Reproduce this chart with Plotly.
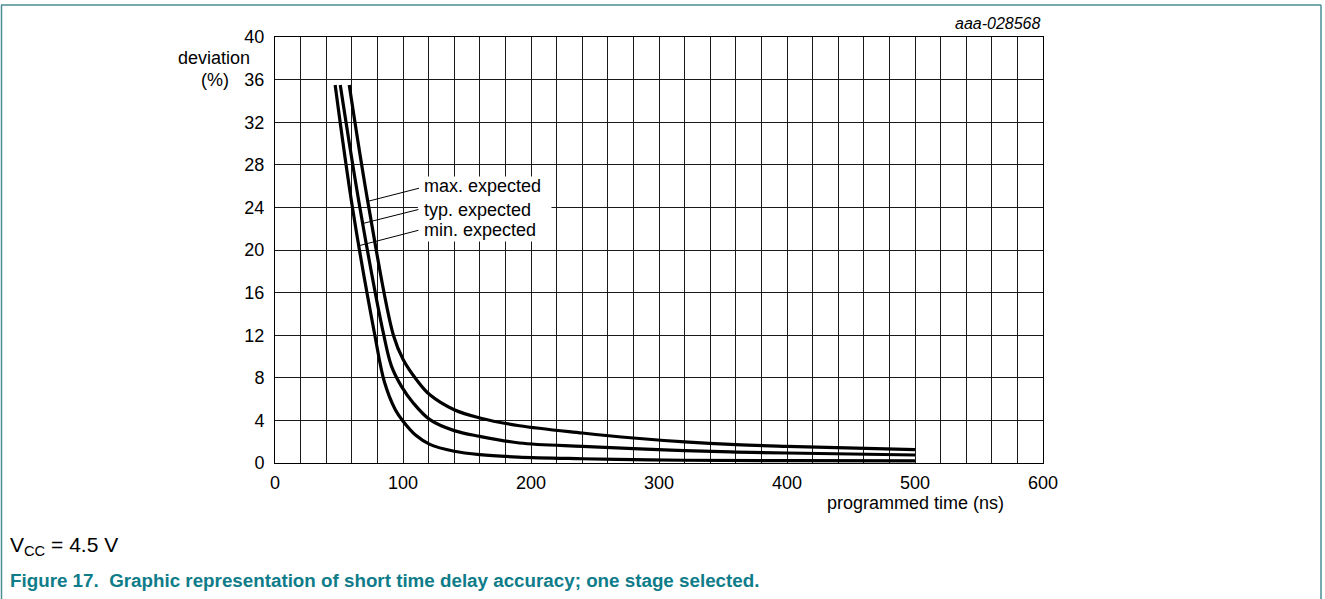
import plotly.graph_objects as go

# ---------------- data ----------------
min_x = [47, 60.5, 78, 85.5, 94, 100.2, 110, 121, 140, 160, 190, 240, 280, 320, 400, 500]
min_y = [35.5, 24, 12, 7.6, 5, 3.9, 2.6, 1.75, 1.1, 0.78, 0.56, 0.4, 0.31, 0.26, 0.22, 0.2]

typ_x = [51, 66.3, 85, 91, 98.8, 108, 121, 140, 160, 191, 240, 280, 320, 360, 400, 500]
typ_y = [35.5, 24, 12, 9.1, 7.2, 5.64, 4.07, 3.04, 2.5, 1.88, 1.56, 1.35, 1.16, 1.03, 0.94, 0.75]

max_x = [58, 73.3, 92.5, 100.2, 110.7, 121, 140, 160, 191, 240, 280, 320, 360, 400, 500]
max_y = [35.5, 24, 12, 9.7, 7.8, 6.4, 5.0, 4.23, 3.5, 2.82, 2.35, 1.98, 1.72, 1.56, 1.25]

x_ticks = [0, 100, 200, 300, 400, 500, 600]
y_ticks = [0, 4, 8, 12, 16, 20, 24, 28, 32, 36, 40]

series_labels = ["max. expected", "typ. expected", "min. expected"]
# leader line start points on curves (data coords) and end points at label box
leader_start = [(73.5, 24.6), (68.9, 22.5), (65.5, 20.4)]
leader_end = [(112.5, 25.8), (112.0, 23.8), (112.0, 21.85)]
label_y = [26.0, 23.8, 21.9]

# ---------------- figure ----------------
W, H = 1325, 599
L, R, T, B = 275, 1043, 37, 463   # plot area in pixels

def px(xp):
    return (xp - L) / (R - L)

def py(yp):
    return (B - yp) / (B - T)

FONT = "Liberation Sans, Arial, sans-serif"
TEAL = "#0e7c89"
GRID = "#1a1a1a"

fig = go.Figure()
for xs, ys in [(min_x, min_y), (typ_x, typ_y), (max_x, max_y)]:
    fig.add_trace(go.Scatter(x=xs, y=ys, mode="lines",
                             line=dict(color="black", width=3.2, shape="spline", smoothing=1.0),
                             showlegend=False, hoverinfo="skip", cliponaxis=False))

shapes = []
# white label box covering grid
shapes.append(dict(type="rect", xref="x", yref="y", x0=111.6, x1=216, y0=20.8, y1=26.9,
                   fillcolor="white", line=dict(width=0), layer="above"))
for (x0, y0), (x1, y1) in zip(leader_start, leader_end):
    shapes.append(dict(type="line", xref="x", yref="y", x0=x0, y0=y0, x1=x1, y1=y1,
                       line=dict(color="black", width=1), layer="above"))
# teal page frame
shapes.append(dict(type="line", xref="paper", yref="paper", x0=px(1), x1=px(1321), y0=py(5), y1=py(5),
                   line=dict(color="#4a8d96", width=1.5)))
shapes.append(dict(type="line", xref="paper", yref="paper", x0=px(1.5), x1=px(1.5), y0=py(5), y1=py(605),
                   line=dict(color="#4a8d96", width=1.5)))
shapes.append(dict(type="line", xref="paper", yref="paper", x0=px(1321), x1=px(1321), y0=py(5), y1=py(605),
                   line=dict(color="#4a8d96", width=1.5)))

annotations = []
for lab, ly in zip(series_labels, label_y):
    annotations.append(dict(x=115.0, y=ly, xref="x", yref="y", text=lab, showarrow=False,
                            xanchor="left", yanchor="middle",
                            font=dict(family=FONT, size=18, color="black")))
annotations += [
    dict(x=px(252), y=py(58), xref="paper", yref="paper", text="deviation", showarrow=False,
         xanchor="right", yanchor="middle", font=dict(family=FONT, size=18, color="black")),
    dict(x=px(231), y=py(80), xref="paper", yref="paper", text="(%)", showarrow=False,
         xanchor="right", yanchor="middle", font=dict(family=FONT, size=18, color="black")),
    dict(x=500, y=py(503), xref="x", yref="paper", text="programmed time (ns)", showarrow=False,
         xanchor="center", yanchor="middle", font=dict(family=FONT, size=18, color="black")),
    dict(x=px(1043), y=py(24), xref="paper", yref="paper", text="<i>aaa-028568</i>", showarrow=False,
         xanchor="right", yanchor="middle", font=dict(family=FONT, size=16, color="black")),
    dict(x=px(8), y=py(546), xref="paper", yref="paper", text="V<sub>CC</sub> = 4.5 V", showarrow=False,
         xanchor="left", yanchor="middle", font=dict(family=FONT, size=21, color="black")),
    dict(x=px(8), y=py(580), xref="paper", yref="paper",
         text="<b>Figure 17.  Graphic representation of short time delay accuracy; one stage selected.</b>",
         showarrow=False, xanchor="left", yanchor="middle",
         font=dict(family=FONT, size=18.8, color=TEAL)),
]

fig.update_layout(
    width=W, height=H,
    margin=dict(l=L, r=W - R, t=T, b=H - B, autoexpand=False),
    paper_bgcolor="white", plot_bgcolor="white",
    shapes=shapes, annotations=annotations,
    font=dict(family=FONT, size=18, color="black"),
    xaxis=dict(range=[0, 600], tickvals=x_ticks, ticktext=[str(v) for v in x_ticks],
               showgrid=True, gridcolor=GRID, gridwidth=1,
               minor=dict(dtick=20, tick0=0, showgrid=True, gridcolor=GRID, gridwidth=1, ticks=""),
               ticks="outside", ticklen=3, tickcolor="rgba(0,0,0,0)",
               showline=True, linecolor="black", linewidth=1, mirror=True,
               zeroline=False, fixedrange=True,
               tickfont=dict(family=FONT, size=18, color="black")),
    yaxis=dict(range=[0, 40], tickvals=y_ticks, ticktext=[str(v) for v in y_ticks],
               showgrid=True, gridcolor=GRID, gridwidth=1,
               ticks="outside", ticklen=6, tickcolor="rgba(0,0,0,0)",
               showline=True, linecolor="black", linewidth=1, mirror=True,
               zeroline=False, fixedrange=True,
               tickfont=dict(family=FONT, size=18, color="black")),
)

fig.write_html("out.html", config={"displayModeBar": False},
               post_script="document.body.style.margin='0';")
